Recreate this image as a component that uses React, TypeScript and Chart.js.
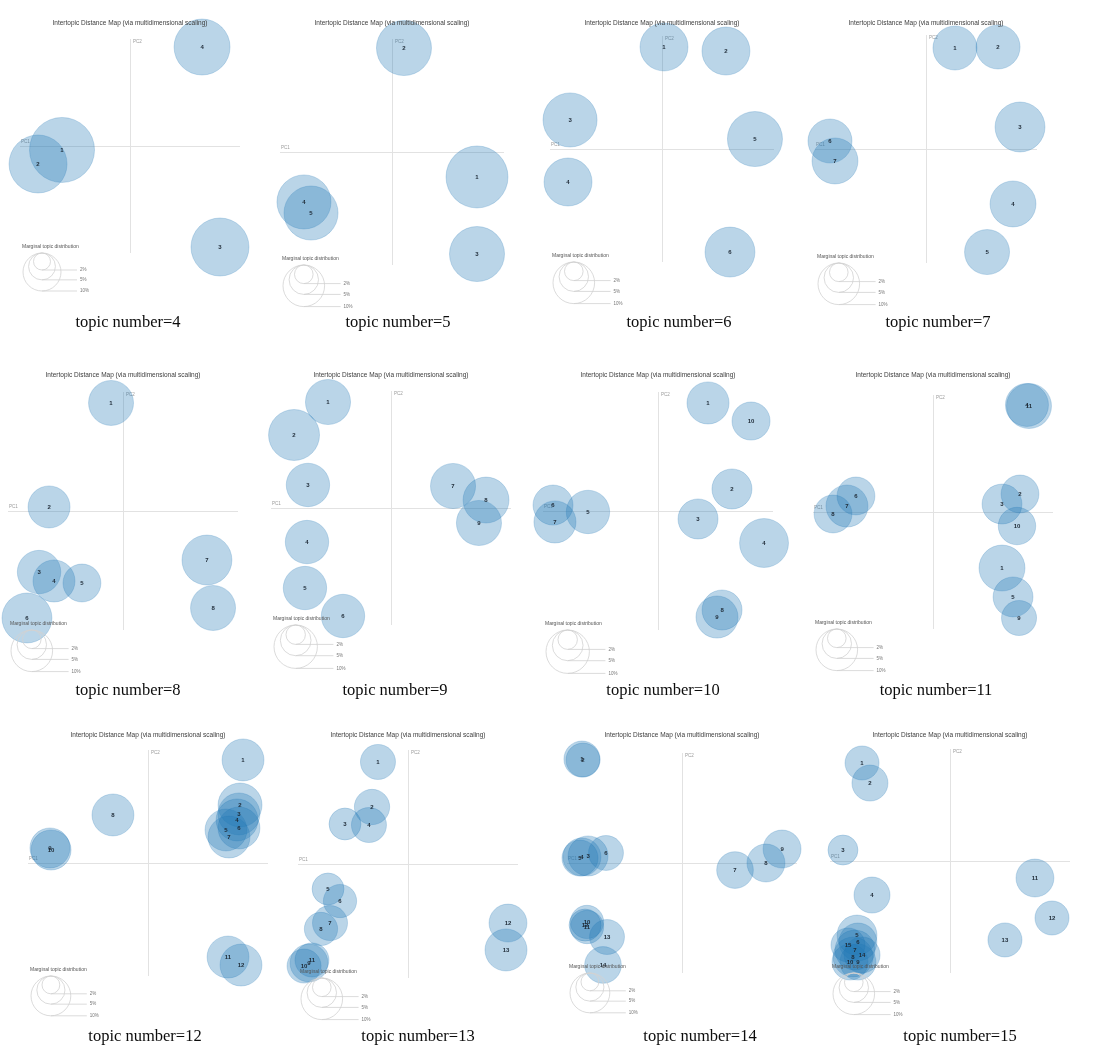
import React, { useEffect, useRef } from "react";
import { Chart, registerables } from "chart.js";

Chart.register(...registerables);

const TITLE = "Intertopic Distance Map (via multidimensional scaling)";
const LEGEND_TITLE = "Marginal topic distribution";
const LEGEND_SHARES = [2, 5, 10];
const LEGEND_LABELS = ["2%", "5%", "10%"];
const CAPTION_PREFIX = "topic number=";
const AXIS_LABELS = ["PC1", "PC2"];

// Each entry: [PC1, PC2, marginal topic share in %]
const topics4 = [
  [-0.618, -0.037, 29.3],
  [-0.836, -0.168, 23.3],
  [0.818, -0.944, 23.3],
  [0.655, 0.925, 21.7],
];
const topics5 = [
  [0.759, -0.221, 22.2],
  [0.107, 0.92, 17.5],
  [0.759, -0.903, 17.5],
  [-0.786, -0.442, 16.9],
  [-0.723, -0.54, 16.9],
];
const topics6 = [
  [0.018, 0.903, 13.3],
  [0.571, 0.867, 13.3],
  [-0.821, 0.257, 16.9],
  [-0.839, -0.292, 13.3],
  [0.83, 0.088, 17.5],
  [0.607, -0.912, 14.4],
];
const topics7 = [
  [0.261, 0.886, 11.2],
  [0.649, 0.895, 11.2],
  [0.847, 0.193, 14.4],
  [0.784, -0.482, 12.2],
  [0.55, -0.904, 11.7],
  [-0.865, 0.07, 11.2],
  [-0.82, -0.105, 12.2],
];
const topics8 = [
  [-0.104, 0.908, 11.7],
  [-0.643, 0.034, 10.2],
  [-0.73, -0.513, 10.9],
  [-0.6, -0.588, 10.2],
  [-0.357, -0.605, 8.3],
  [-0.835, -0.899, 14.4],
  [0.73, -0.412, 14.4],
  [0.783, -0.815, 11.7],
];
const topics9 = [
  [-0.525, 0.906, 10.8],
  [-0.808, 0.624, 13.8],
  [-0.692, 0.197, 10.0],
  [-0.7, -0.291, 10.0],
  [-0.717, -0.684, 10.0],
  [-0.4, -0.923, 10.0],
  [0.517, 0.188, 10.8],
  [0.792, 0.068, 11.2],
  [0.733, -0.128, 10.8],
];
const topics10 = [
  [0.435, 0.908, 9.4],
  [0.643, 0.185, 8.5],
  [0.348, -0.067, 8.5],
  [0.922, -0.269, 12.7],
  [-0.609, -0.008, 10.0],
  [-0.913, 0.05, 8.5],
  [-0.896, -0.092, 9.4],
  [0.557, -0.832, 8.5],
  [0.513, -0.891, 9.4],
  [0.809, 0.756, 7.7],
];
const topics11 = [
  [0.575, -0.479, 12.2],
  [0.725, 0.154, 8.3],
  [0.575, 0.068, 9.2],
  [0.783, 0.915, 10.7],
  [0.667, -0.726, 9.2],
  [-0.642, 0.137, 8.3],
  [-0.717, 0.051, 10.2],
  [-0.833, -0.017, 8.3],
  [0.717, -0.906, 7.1],
  [0.7, -0.12, 8.1],
  [0.8, 0.906, 11.7],
];
const topics12 = [
  [0.792, 0.912, 11.1],
  [0.767, 0.513, 12.2],
  [0.758, 0.434, 11.1],
  [0.742, 0.381, 11.1],
  [0.65, 0.292, 11.1],
  [0.758, 0.31, 11.1],
  [0.675, 0.23, 11.1],
  [-0.292, 0.425, 11.1],
  [-0.817, 0.133, 10.1],
  [-0.808, 0.115, 10.1],
  [0.667, -0.832, 11.1],
  [0.775, -0.903, 11.1],
];
const topics13 = [
  [-0.273, 0.895, 7.1],
  [-0.327, 0.5, 7.2],
  [-0.573, 0.351, 5.9],
  [-0.355, 0.342, 7.1],
  [-0.727, -0.219, 5.9],
  [-0.618, -0.325, 6.4],
  [-0.709, -0.518, 7.1],
  [-0.791, -0.57, 6.4],
  [-0.9, -0.868, 8.3],
  [-0.945, -0.895, 6.7],
  [-0.873, -0.842, 6.7],
  [0.909, -0.518, 8.3],
  [0.891, -0.754, 10.2],
];
const topics14 = [
  [-0.87, 0.945, 8.2],
  [-0.861, 0.936, 7.3],
  [-0.817, 0.064, 10.1],
  [-0.87, 0.055, 9.1],
  [-0.887, 0.045, 8.2],
  [-0.661, 0.091, 7.7],
  [0.461, -0.064, 8.5],
  [0.73, 0.0, 9.1],
  [0.87, 0.127, 9.1],
  [-0.826, -0.536, 7.0],
  [-0.826, -0.582, 7.0],
  [-0.843, -0.564, 6.5],
  [-0.652, -0.673, 7.7],
  [-0.687, -0.927, 8.5],
];
const topics15 = [
  [-0.733, 0.875, 6.7],
  [-0.667, 0.696, 7.5],
  [-0.892, 0.098, 5.2],
  [-0.65, -0.304, 7.5],
  [-0.775, -0.661, 9.2],
  [-0.767, -0.723, 8.3],
  [-0.792, -0.795, 9.2],
  [-0.808, -0.857, 9.2],
  [-0.767, -0.902, 7.5],
  [-0.833, -0.902, 7.5],
  [0.708, -0.152, 8.3],
  [0.85, -0.509, 6.7],
  [0.458, -0.705, 6.7],
  [-0.733, -0.839, 7.5],
  [-0.85, -0.75, 6.7],
];

const TOPIC_COUNTS = [4, 5, 6, 7, 8, 9, 10, 11, 12, 13, 14, 15];
const TOPIC_DATA = [
  topics4, topics5, topics6, topics7, topics8, topics9,
  topics10, topics11, topics12, topics13, topics14, topics15,
];

// Layout (page pixels): plot centre, half sizes, legend 10% radius, title y, caption centre
const LAYOUT = [
  { cx: 130, cy: 146, hw: 110, hh: 107, r10: 19, titleY: 23, capX: 128, capY: 323 },
  { cx: 392, cy: 152, hw: 112, hh: 113, r10: 20.8, titleY: 23, capX: 398, capY: 323 },
  { cx: 662, cy: 149, hw: 112, hh: 113, r10: 20.8, titleY: 23, capX: 679, capY: 323 },
  { cx: 926, cy: 149, hw: 111, hh: 114, r10: 20.8, titleY: 23, capX: 938, capY: 323 },
  { cx: 123, cy: 511, hw: 115, hh: 119, r10: 20.8, titleY: 375, capX: 128, capY: 691 },
  { cx: 391, cy: 508, hw: 120, hh: 117, r10: 21.7, titleY: 375, capX: 395, capY: 691 },
  { cx: 658, cy: 511, hw: 115, hh: 119, r10: 21.7, titleY: 375, capX: 663, capY: 691 },
  { cx: 933, cy: 512, hw: 120, hh: 117, r10: 20.8, titleY: 375, capX: 936, capY: 691 },
  { cx: 148, cy: 863, hw: 120, hh: 113, r10: 19.9, titleY: 735, capX: 145, capY: 1037 },
  { cx: 408, cy: 864, hw: 110, hh: 114, r10: 20.8, titleY: 735, capX: 418, capY: 1037 },
  { cx: 682, cy: 863, hw: 115, hh: 110, r10: 19.9, titleY: 735, capX: 700, capY: 1037 },
  { cx: 950, cy: 861, hw: 120, hh: 112, r10: 20.8, titleY: 735, capX: 960, capY: 1037 },
];

const CANVAS_HALF_W = 150;

function Panel({ idx }: { idx: number }) {
  const ref = useRef<HTMLCanvasElement | null>(null);
  const L = LAYOUT[idx];
  const left = L.cx - CANVAS_HALF_W;
  const top = L.titleY - 18;
  const width = CANVAS_HALF_W * 2;
  const height = L.capY + 14 - top;

  useEffect(() => {
    const canvas = ref.current;
    if (!canvas) return;
    const pts = TOPIC_DATA[idx];
    const r10 = L.r10;
    const radius = (s: number) => r10 * Math.sqrt(s / 10);

    const panelPlugin = {
      id: "ldavis" + idx,
      beforeDatasetsDraw(chart: any) {
        const ctx = chart.ctx;
        const ca = chart.chartArea;
        const xs = chart.scales.x;
        const ys = chart.scales.y;
        const x0 = xs.getPixelForValue(0);
        const y0 = ys.getPixelForValue(0);
        ctx.save();
        ctx.strokeStyle = "#e2e2e2";
        ctx.lineWidth = 1;
        ctx.beginPath();
        ctx.moveTo(ca.left, y0 + 0.5);
        ctx.lineTo(ca.right, y0 + 0.5);
        ctx.moveTo(x0 + 0.5, ca.top);
        ctx.lineTo(x0 + 0.5, ca.bottom);
        ctx.stroke();
        ctx.fillStyle = "#9a9a9a";
        ctx.font = "4.5px 'Liberation Sans'";
        ctx.textBaseline = "bottom";
        ctx.textAlign = "left";
        ctx.fillText(AXIS_LABELS[0], ca.left + 1, y0 - 2);
        ctx.textBaseline = "top";
        ctx.fillText(AXIS_LABELS[1], x0 + 3, ca.top + 1);
        ctx.restore();
      },
      afterDraw(chart: any) {
        const ctx = chart.ctx;
        const ca = chart.chartArea;
        const xs = chart.scales.x;
        const ys = chart.scales.y;
        ctx.save();
        // topic numbers
        ctx.fillStyle = "#1e2a36";
        ctx.font = "bold 6px 'Liberation Sans'";
        ctx.textAlign = "center";
        ctx.textBaseline = "middle";
        pts.forEach((p: number[], i: number) => {
          ctx.fillText(String(i + 1), xs.getPixelForValue(p[0]), ys.getPixelForValue(p[1]));
        });
        // title
        ctx.fillStyle = "#3c3c3c";
        ctx.font = "6.5px 'Liberation Sans'";
        ctx.textBaseline = "middle";
        ctx.fillText(TITLE, L.cx - left, L.titleY - top);
        // legend
        const legTop = ca.bottom - 6;
        ctx.fillStyle = "#555";
        ctx.font = "5px 'Liberation Sans'";
        ctx.textAlign = "left";
        ctx.fillText(LEGEND_TITLE, ca.left + 2, legTop);
        const ccx = ca.left + r10 + 3;
        const cTop = legTop + 6;
        const labX = ca.left + 2 * r10 + 22;
        ctx.strokeStyle = "#d2d2d2";
        ctx.lineWidth = 0.8;
        LEGEND_SHARES.forEach((s, i) => {
          const r = radius(s);
          ctx.beginPath();
          ctx.arc(ccx, cTop + r, r, 0, Math.PI * 2);
          ctx.stroke();
          ctx.beginPath();
          ctx.moveTo(ccx, cTop + 2 * r);
          ctx.lineTo(labX - 3, cTop + 2 * r);
          ctx.stroke();
          ctx.fillStyle = "#777";
          ctx.font = "4.5px 'Liberation Sans'";
          ctx.fillText(LEGEND_LABELS[i], labX, cTop + 2 * r);
        });
        // caption
        ctx.fillStyle = "#0c0c0c";
        ctx.font = "16.5px 'Liberation Serif'";
        ctx.textAlign = "center";
        ctx.fillText(CAPTION_PREFIX + TOPIC_COUNTS[idx], L.capX - left, L.capY - top);
        ctx.restore();
      },
    };

    const chart = new Chart(canvas, {
      type: "bubble",
      data: {
        datasets: [
          {
            data: pts.map((p: number[]) => ({ x: p[0], y: p[1], r: radius(p[2]) })),
            backgroundColor: "rgba(31,119,180,0.31)",
            borderColor: "rgba(31,119,180,0.22)",
            borderWidth: 1,
            clip: false,
          } as any,
        ],
      },
      options: {
        responsive: false,
        animation: false,
        events: [],
        layout: {
          padding: {
            left: L.cx - L.hw - left,
            right: left + width - (L.cx + L.hw),
            top: L.cy - L.hh - top,
            bottom: top + height - (L.cy + L.hh),
          },
        },
        scales: {
          x: { type: "linear", min: -1, max: 1, display: false },
          y: { type: "linear", min: -1, max: 1, display: false },
        },
        plugins: {
          legend: { display: false },
          tooltip: { enabled: false },
          title: { display: false },
        },
      },
      plugins: [panelPlugin],
    });
    return () => chart.destroy();
  }, [idx]);

  return (
    <canvas
      ref={ref}
      width={width}
      height={height}
      style={{
        position: "absolute",
        left,
        top,
        width,
        height,
        filter: "blur(0.4px)",
      }}
    />
  );
}

export default function App() {
  return (
    <div
      style={{
        position: "absolute",
        left: 0,
        top: 0,
        width: 1095,
        height: 1053,
        background: "#fff",
        overflow: "hidden",
      }}
    >
      {LAYOUT.map((_, i) => (
        <Panel key={i} idx={i} />
      ))}
    </div>
  );
}
